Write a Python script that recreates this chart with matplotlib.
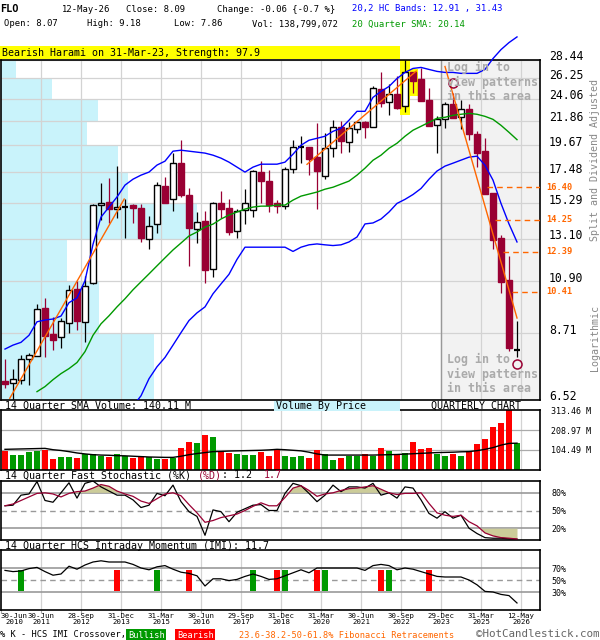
import numpy as np
import matplotlib
matplotlib.use('Agg')
import matplotlib.pyplot as plt
from matplotlib.patches import Rectangle
import matplotlib.transforms as mtransforms
import matplotlib.ticker as mticker

plt.rcParams['font.family'] = ['DejaVu Sans Mono', 'DejaVu Sans']

# ------------------------------------------------------------------ data
tick_labels = ['30-Jun\n2010', '30-Jun\n2011', '28-Sep\n2012', '31-Dec\n2013', '31-Mar\n2015',
               '30-Jun\n2016', '29-Sep\n2017', '31-Dec\n2018', '31-Mar\n2020', '30-Jun\n2021',
               '30-Sep\n2022', '29-Dec\n2023', '31-Mar\n2025', '12-May\n2026']
tick_quarters = [0, 4, 9, 14, 19, 24, 29, 34, 39, 44, 49, 54, 59, 64]

opens = [7.07, 7.02, 7.10, 7.80, 7.88, 9.70, 8.66, 8.55, 9.11, 10.55,
         9.15, 10.83, 15.20, 15.40, 14.94, 15.05, 15.20, 15.00, 13.10, 14.00,
         16.48, 15.57, 18.20, 15.85, 13.68, 14.16, 11.50, 15.33, 15.00, 13.56,
         14.84, 14.84, 17.50, 16.83, 15.33, 15.13, 17.72, 19.45, 19.49, 18.65,
         17.20, 19.39, 21.31, 19.93, 21.13, 21.70, 21.31, 25.10, 23.70, 24.50,
         23.30, 26.99, 26.14, 23.88, 21.48, 21.99, 23.46, 22.23, 23.03, 20.66,
         19.20, 15.96, 13.15, 10.97, 8.07]
highs = [7.79, 7.47, 7.92, 8.00, 9.87, 10.13, 9.35, 9.31, 10.74, 10.93,
         11.14, 15.25, 16.70, 17.05, 18.00, 15.60, 15.27, 15.27, 14.50, 16.75,
         17.12, 19.05, 20.10, 16.33, 14.75, 14.78, 15.35, 16.11, 15.57, 14.91,
         16.25, 17.65, 18.35, 17.65, 15.50, 17.86, 20.13, 20.49, 19.49, 21.66,
         20.70, 21.97, 21.88, 21.70, 21.79, 21.79, 25.43, 27.02, 25.68, 26.48,
         28.40, 27.05, 27.52, 25.20, 22.33, 23.66, 24.65, 23.88, 23.46, 20.94,
         20.27, 15.96, 13.30, 12.19, 9.18]
lows = [6.88, 6.40, 6.98, 6.96, 7.88, 7.87, 8.11, 8.18, 8.73, 8.84,
        8.40, 10.80, 14.22, 14.03, 14.33, 13.15, 14.03, 12.90, 12.55, 13.46,
        15.33, 14.78, 15.70, 11.67, 12.85, 10.83, 11.12, 14.33, 13.30, 13.14,
        13.97, 14.40, 15.33, 14.72, 14.66, 14.94, 17.42, 18.20, 17.27, 14.94,
        17.02, 18.65, 19.03, 19.10, 20.75, 20.30, 21.31, 23.20, 22.38, 23.00,
        22.66, 24.62, 23.78, 21.39, 19.03, 21.22, 22.14, 21.13, 20.15, 17.88,
        15.90, 12.52, 10.38, 8.05, 7.86]
closes = [6.98, 7.13, 7.80, 7.92, 9.65, 8.62, 8.47, 9.19, 10.51, 9.19,
          10.70, 15.20, 15.33, 14.94, 15.07, 15.08, 15.00, 13.15, 13.87, 16.55,
          15.33, 18.20, 15.85, 13.74, 14.10, 11.46, 15.33, 14.94, 13.50, 14.78,
          15.33, 17.58, 16.83, 15.20, 15.13, 17.72, 19.49, 19.50, 18.50, 17.58,
          19.39, 21.31, 20.01, 21.22, 21.70, 21.31, 25.21, 23.60, 24.50, 23.10,
          26.99, 25.92, 23.78, 21.39, 22.04, 23.46, 22.14, 23.03, 20.66, 19.03,
          15.90, 13.04, 10.88, 8.15, 8.09]

# 20,2 HC bands and 20 quarter SMA
upper_band = [8.13, 8.27, 8.37, 8.63, 9.15, 9.22, 9.26, 9.38, 9.94, 10.15,
              10.93, 12.80, 14.40, 15.04, 15.71, 16.54, 16.97, 17.27, 17.50, 18.04,
              18.35, 19.16, 19.24, 19.16, 19.08, 19.00, 18.83, 18.59, 18.27, 17.88,
              17.50, 17.88, 18.11, 18.11, 18.11, 18.27, 18.91, 19.66, 20.09, 20.26,
              20.44, 20.88, 21.16, 21.91, 22.77, 22.77, 24.19, 24.82, 25.36, 26.25,
              26.95, 27.42, 27.54, 27.30, 27.07, 26.95, 26.95, 26.84, 26.84, 26.84,
              27.30, 28.62, 29.75, 30.67, 31.43]
lower_band_start = 16
lower_band = [6.35, 6.64, 7.15, 7.53, 7.84, 8.27, 8.73, 9.20, 9.51, 9.76,
              10.33, 10.78, 11.24, 11.99, 12.64, 12.64, 12.64, 12.64, 12.64, 12.64,
              12.41, 12.64, 12.77, 12.82, 12.77, 12.73, 12.77, 12.93, 13.21, 13.98,
              14.04, 14.28, 14.72, 15.28, 15.55, 15.88, 16.30, 16.97, 17.58, 17.96,
              18.19, 18.43, 18.67, 18.75, 18.03, 16.90, 15.28, 13.98, 12.93]
sma_start = 4
sma20 = [6.76, 6.91, 7.12, 7.31, 7.47, 7.67, 8.04, 8.63, 9.07, 9.39,
         9.76, 10.11, 10.51, 10.88, 11.26, 11.66, 12.07, 12.49, 12.87, 13.27,
         13.50, 13.79, 13.97, 14.28, 14.53, 14.72, 14.91, 15.04, 15.10, 15.10,
         15.17, 15.17, 15.50, 15.77, 15.91, 16.05, 16.25, 16.39, 16.61, 16.83,
         17.27, 17.80, 18.42, 18.83, 19.40, 19.83, 20.44, 20.98, 21.34, 21.71,
         22.09, 22.19, 22.38, 22.48, 22.57, 22.48, 22.28, 21.99, 21.43, 20.79,
         20.14]

# trend lines (quarter index, price) and Fibonacci retracement levels
trend_lines = [((0.6, 6.57), (14.9, 15.57)),
               ((37.75, 18.1), (51.4, 27.1)),
               ((55.0, 27.65), (64.0, 9.30))]
fib_levels = [16.40, 14.25, 12.39, 10.41]
fib_start = [60.3, 61.3, 62.3, 63.4]

# pattern markers
pattern_q = [56, 64]
pattern_price = [25.7, 7.63]
highlight_q = [50, 51]

# volume by price
price_ticks = [6.52, 8.71, 10.90, 13.10, 15.29, 17.48, 19.67, 21.86, 24.06, 26.25, 28.44]
vbp_volume = [153, 98, 66, 196, 127, 117, 86, 97, 51, 15]

# volume (millions)
volume = [101, 78, 78, 94, 101, 104, 57, 68, 68, 63,
          82, 82, 75, 68, 84, 75, 64, 71, 68, 59,
          59, 64, 117, 146, 141, 183, 172, 96, 91, 84,
          78, 78, 94, 75, 103, 73, 68, 73, 64, 104,
          82, 54, 64, 75, 75, 84, 75, 117, 101, 78,
          89, 146, 111, 117, 84, 73, 84, 73, 94, 138,
          164, 225, 245, 313, 138.8]
volume_sma = [108, 109, 110, 111, 112, 113, 106, 102, 96, 89,
              84, 80, 78, 77, 75, 74, 72, 70, 68, 67,
              66, 66, 72, 80, 86, 91, 96, 97, 99, 100,
              101, 102, 103, 105, 108, 106, 103, 100, 93, 84,
              78, 78, 78, 78, 78, 78, 78, 79, 80, 81,
              83, 85, 87, 89, 91, 92, 93, 95, 96, 101,
              108, 117, 130, 139, 140.11]
volume_ticks = [104.49, 208.97, 313.46]

# fast stochastic
stoch_k = [58, 59, 76, 78, 99, 67, 64, 80, 97, 71,
           96, 100, 90, 83, 76, 76, 68, 55, 59, 79,
           75, 93, 65, 48, 40, 8, 51, 48, 31, 47,
           53, 59, 60, 50, 50, 79, 96, 92, 79, 65,
           76, 93, 82, 90, 90, 88, 96, 76, 80, 71,
           90, 88, 68, 45, 37, 48, 37, 42, 20, 11,
           4, 3, 3, 2, 1.2]
stoch_d = [58, 61, 67, 73, 79, 80, 78, 73, 79, 82,
           83, 88, 94, 91, 83, 78, 74, 66, 62, 70,
           78, 80, 75, 60, 46, 30, 33, 38, 41, 44,
           50, 57, 63, 58, 58, 72, 88, 92, 84, 74,
           78, 80, 84, 87, 88, 90, 92, 86, 80, 77,
           79, 79, 80, 62, 46, 42, 40, 42, 31, 24,
           12, 7, 4, 3, 1.7]

# HCS intraday momentum
imi = [66, 64, 65, 69, 71, 64, 58, 60, 73, 68,
       75, 80, 82, 80, 80, 80, 76, 70, 67, 72,
       74, 68, 63, 61, 57, 40, 52, 52, 49, 51,
       56, 60, 56, 51, 52, 57, 62, 67, 62, 70,
       70, 70, 70, 70, 70, 66, 74, 76, 74, 67,
       70, 68, 64, 60, 56, 55, 55, 55, 50, 42,
       31, 30, 26, 24, 11.7]
bull_cross = [2, 19, 31, 35, 40, 48]
bear_cross = [14, 23, 34, 39, 47, 53]

# ------------------------------------------------------------------ style
RED_C = '#990033'
GREEN = '#009900'
VRED = '#ff0000'
BLUE = '#0000ff'
ORANGE = '#ff6600'
CYAN = '#c9f3fb'
GRID = '#d3d3d3'
GREYL = '#999999'

W, H = 600, 640
fig = plt.figure(figsize=(W / 100, H / 100), dpi=100)
fig.patch.set_facecolor('white')


def fx(px):
    return px / W


def fy(py):
    return 1 - py / H


def rect(left, top, right, bottom):
    return [fx(left), fy(bottom), fx(right) - fx(left), fy(top) - fy(bottom)]


n = len(closes)
idx = np.arange(n)
XLIM = (-0.5, 66.875)
grid_pos = [q + 0.5 for q in tick_quarters[1:]]

price_rect = rect(1, 60, 540, 400)
vbp_ax = fig.add_axes(price_rect, zorder=0)
ax = fig.add_axes(price_rect, zorder=1)
vax = fig.add_axes(rect(1, 410, 540, 470))
sax = fig.add_axes(rect(1, 481, 540, 540))
iax = fig.add_axes(rect(1, 550, 540, 610))

for a in (ax, vax, sax, iax):
    a.set_xlim(*XLIM)
    for s in a.spines.values():
        s.set_color('black')
        s.set_linewidth(1.2)
    for g in grid_pos:
        a.axvline(g, color=GRID, lw=0.9, zorder=0.5)
    a.set_xticks([])
    a.tick_params(length=0)

# ---------------- volume by price (background axis)
vbp_ax.set_yscale('log')
vbp_ax.set_ylim(6.52, 28.44)
vbp_ax.set_xlim(0, 539)
vbp_ax.barh(price_ticks[:-1], vbp_volume, height=np.diff(price_ticks), align='edge',
            color=CYAN, lw=0)
vbp_ax.axis('off')

# ---------------- price panel
ax.patch.set_visible(False)
ax.set_yscale('log')
ax.set_ylim(6.52, 28.44)
ax.yaxis.set_major_locator(mticker.NullLocator())
ax.yaxis.set_minor_locator(mticker.NullLocator())
for v in price_ticks:
    ax.axhline(v, color=GRID, lw=0.9, zorder=0.5)
ax.axvspan(54.5, XLIM[1], facecolor='#f2f2f2', zorder=0.2)
ax.axvline(54.5, color=GREYL, lw=1, zorder=0.6)

for q in highlight_q:
    ax.add_patch(Rectangle((q - 0.65, lows[q] / 1.012), 1.3,
                           highs[q] * 1.012 - lows[q] / 1.012,
                           facecolor='#ffff00', edgecolor='none', zorder=1))

for i in idx:
    o, h, l, c = opens[i], highs[i], lows[i], closes[i]
    bull = c >= o
    col = 'black' if bull else RED_C
    ax.vlines(i, l, h, color=col, lw=0.9, zorder=3)
    lo_, hi_ = min(o, c), max(o, c)
    if hi_ / lo_ < 1.006:
        ax.hlines((o + c) / 2, i - 0.375, i + 0.375, color=col, lw=1.6, zorder=4)
    else:
        ax.add_patch(Rectangle((i - 0.375, lo_), 0.75, hi_ - lo_,
                               facecolor='white' if bull else col,
                               edgecolor=col, lw=1.0, zorder=4))

ax.plot(idx, upper_band, color=BLUE, lw=1, zorder=5, clip_on=False)
ax.plot(np.arange(lower_band_start, lower_band_start + len(lower_band)), lower_band,
        color=BLUE, lw=1, zorder=5)
ax.plot(np.arange(sma_start, sma_start + len(sma20)), sma20, color=GREEN, lw=1, zorder=5)
for (x0, y0), (x1, y1) in trend_lines:
    ax.plot([x0, x1], [y0, y1], color=ORANGE, lw=1, zorder=6)
for lvl, st in zip(fib_levels, fib_start):
    ax.hlines(lvl, st, XLIM[1], colors=ORANGE, linestyles=(0, (4, 3)), lw=1, zorder=6)
ax.plot(pattern_q, pattern_price, ls='none', marker='o', ms=6.5, mfc='none',
        mec=RED_C, mew=1.1, zorder=7)

ytrans = mtransforms.blended_transform_factory(fig.transFigure, ax.transData)
ytrans_up = mtransforms.offset_copy(ytrans, fig=fig, y=3, units='dots')
for v in price_ticks:
    ax.text(fx(549), v, f'{v:.2f}', transform=ytrans_up, ha='left', va='center',
            fontsize=8.3, color='black', clip_on=False)
for lvl in fib_levels:
    ax.text(fx(546), lvl, f'{lvl:.2f}', transform=ytrans, ha='left', va='center',
            fontsize=6.2, color=ORANGE, fontweight='bold', clip_on=False)

login_kw = dict(fontsize=8.4, fontweight='bold', color='#aaaaaa', ha='left', va='center')
for j, s in enumerate(['Log in to', 'view patterns', 'in this area']):
    fig.text(fx(447), fy(67 + 15 * j), s, zorder=10, **login_kw)
    fig.text(fx(447), fy(359 + 15 * j), s, zorder=10, **login_kw)

fig.text(fx(595), fy(160), 'Split and Dividend Adjusted', rotation=90, ha='center',
         va='center', fontsize=7.2, color='#888888')
fig.text(fx(595), fy(338), 'Logarithmic', rotation=90, ha='center', va='center',
         fontsize=7.2, color='#888888')

# ---------------- volume panel
vcols = [GREEN if closes[i] >= opens[i] else VRED for i in idx]
vax.set_ylim(0, 313.46)
for v in volume_ticks[:2]:
    vax.axhline(v, color='#aaaaaa', lw=0.9, zorder=0.6)
vax.bar(idx, volume, width=0.7, color=vcols, lw=0, zorder=2)
vax.plot(idx, volume_sma, color='black', lw=1, zorder=3)
vax.yaxis.tick_right()
vax.set_yticks(volume_ticks)
vax.set_yticklabels([f'{v:.2f} M' for v in volume_ticks])
vax.tick_params(axis='y', length=0, pad=8, labelsize=6)

# ---------------- stochastic panel
sax.set_ylim(0, 100)
for v in (20, 80):
    sax.axhline(v, color=GREYL, lw=1.2, zorder=0.7)
sax.axhline(50, color=GREYL, lw=1, ls=(0, (4, 3)), zorder=0.7)
kd = np.array(stoch_d, dtype=float)
sax.fill_between(idx, kd, 80, where=kd > 80, interpolate=True, color='#cccc99', lw=0, zorder=1)
sax.fill_between(idx, kd, 20, where=kd < 20, interpolate=True, color='#cccc99', lw=0, zorder=1)
sax.plot(idx, stoch_k, color='black', lw=0.9, zorder=3)
sax.plot(idx, stoch_d, color=RED_C, lw=0.9, zorder=3)
sax.yaxis.tick_right()
sax.set_yticks([20, 50, 80])
sax.set_yticklabels(['20%', '50%', '80%'])
sax.tick_params(axis='y', length=0, pad=8, labelsize=6)

# ---------------- IMI panel
iax.set_ylim(0, 100)
for v in (30, 70):
    iax.axhline(v, color=GREYL, lw=1.2, zorder=0.7)
iax.axhline(50, color=GREYL, lw=1, ls=(0, (4, 3)), zorder=0.7)
iax.bar(bull_cross, 35, bottom=32, width=0.75, color=GREEN, lw=0, zorder=2)
iax.bar(bear_cross, 35, bottom=32, width=0.75, color=VRED, lw=0, zorder=2)
iax.plot(idx, imi, color='black', lw=0.9, zorder=3)
iax.yaxis.tick_right()
iax.set_yticks([30, 50, 70])
iax.set_yticklabels(['30%', '50%', '70%'])
iax.tick_params(axis='y', length=0, pad=8, labelsize=6)
xt = [q + 0.5 for q in tick_quarters]
xt[0] = XLIM[0]
iax.set_xticks(xt)
iax.set_xticklabels(tick_labels)
iax.tick_params(axis='x', length=2, color='#aaaaaa', labelsize=5.3, pad=0.5)
for k, lbl in enumerate(iax.get_xticklabels()):
    lbl.set_linespacing(0.95)
    lbl.set_multialignment('center')
    if k == 0:
        lbl.set_horizontalalignment('left')

# ---------------- header and labels
hkw = dict(fontsize=6.4, ha='left', va='center')
fig.text(fx(0), fy(9), 'FLO', fontweight='bold', fontsize=7.4, ha='left', va='center')
fig.text(fx(62), fy(9), '12-May-26', **hkw)
fig.text(fx(126), fy(9), 'Close: 8.09', **hkw)
fig.text(fx(217), fy(9), 'Change: -0.06 {-0.7 %}', **hkw)
fig.text(fx(352), fy(9), '20,2 HC Bands: 12.91 , 31.43', color=BLUE, **hkw)
fig.text(fx(4), fy(24), 'Open: 8.07', **hkw)
fig.text(fx(87), fy(24), 'High: 9.18', **hkw)
fig.text(fx(174), fy(24), 'Low: 7.86', **hkw)
fig.text(fx(252), fy(24), 'Vol: 138,799,072', **hkw)
fig.text(fx(352), fy(24), '20 Quarter SMA: 20.14', color=GREEN, **hkw)

lkw = dict(fontsize=7.2, ha='left', va='center')
fig.patches.append(Rectangle((fx(0), fy(59)), fx(400), fy(46) - fy(59),
                             transform=fig.transFigure, facecolor='#ffff00',
                             edgecolor='none', zorder=0))
fig.text(fx(2), fy(52.5), 'Bearish Harami on 31-Mar-23, Strength: 97.9', **lkw)

fig.text(fx(5), fy(406), '14 Quarter SMA Volume: 140.11 M', **lkw)
fig.patches.append(Rectangle((fx(274), fy(411)), fx(400) - fx(274), fy(401) - fy(411),
                             transform=fig.transFigure, facecolor=CYAN,
                             edgecolor='none', zorder=0))
fig.text(fx(276), fy(406), 'Volume By Price', **lkw)
fig.text(fx(521), fy(406), 'QUARTERLY CHART', fontsize=7.2, ha='right', va='center')

cw = 6.02
base = '14 Quarter Fast Stochastic (%K) '
fig.text(fx(5), fy(475), base, **lkw)
fig.text(fx(5 + len(base) * cw), fy(475), '(%D)', color=RED_C, **lkw)
fig.text(fx(5 + (len(base) + 4) * cw), fy(475), ': 1.2', **lkw)
fig.text(fx(5 + (len(base) + 11) * cw), fy(475), '1.7', color=RED_C, **lkw)

fig.text(fx(5), fy(546), '14 Quarter HCS Intraday Momentum (IMI): 11.7', **lkw)

fkw = dict(fontsize=6.2, ha='left', va='center')
fig.text(fx(0), fy(635), '% K - HCS IMI Crossover,', **fkw)
fig.text(fx(128), fy(635), 'Bullish', color='white',
         bbox=dict(facecolor=GREEN, edgecolor='none', pad=1.2), **fkw)
fig.text(fx(177), fy(635), 'Bearish', color='white',
         bbox=dict(facecolor=VRED, edgecolor='none', pad=1.2), **fkw)
fig.text(fx(239), fy(635), '23.6-38.2-50-61.8% Fibonacci Retracements', color=ORANGE, **fkw)
fig.text(fx(476), fy(634), '\u00a9HotCandlestick.com', fontsize=7.8, color='#666666',
         ha='left', va='center')

fig.savefig('out.png', dpi=100)
